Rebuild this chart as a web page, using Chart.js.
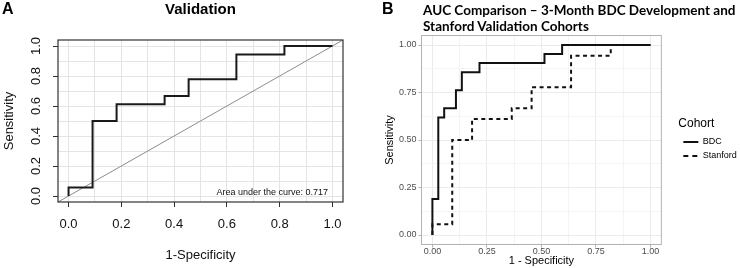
<!DOCTYPE html>
<html>
<head>
<meta charset="utf-8">
<script src="https://cdn.jsdelivr.net/npm/chart.js@4.4.1/dist/chart.umd.min.js"></script>
<style>
  body { margin: 0; background: #fff; }
  #fig { position: relative; width: 740px; height: 268px; overflow: hidden; background: #fff; }
  .panel { position: absolute; top: 0; }
  .txt { position: absolute; white-space: nowrap; color: #000; }
</style>
</head>
<body>
<div id="fig">
  <canvas id="rocA" class="panel" width="370" height="268" style="left:0"></canvas>
  <canvas id="rocB" class="panel" width="370" height="268" style="left:370px"></canvas>
  <div class="txt" style="left:2px;top:0;line-height:20px;font:bold 16px 'Liberation Sans'">A</div>
  <div class="txt" style="left:100px;width:201px;text-align:center;top:0;line-height:20px;font:bold 15px 'Liberation Sans'">Validation</div>
  <div class="txt" style="left:382px;top:0;line-height:20px;font:bold 16px 'Liberation Sans'">B</div>
  <div class="txt" style="left:423px;top:2px;line-height:15px;font:bold 13.5px Lato">AUC Comparison – 3-Month BDC Development and<br>Stanford Validation Cohorts</div>
</div>
<script>
// ROC curves, (1 - specificity, sensitivity) corners of each step
const fprStanford = [0, 0, 0.091, 0.091, 0.182, 0.182, 0.364, 0.364, 0.455, 0.455, 0.636, 0.636, 0.818, 0.818, 1.0];
const tprStanford = [0, 0.056, 0.056, 0.5, 0.5, 0.611, 0.611, 0.667, 0.667, 0.778, 0.778, 0.944, 0.944, 1.0, 1.0];
const fprBDC = [0, 0, 0.027, 0.027, 0.054, 0.054, 0.108, 0.108, 0.135, 0.135, 0.216, 0.216, 0.514, 0.514, 0.595, 0.595, 1.0];
const tprBDC = [0, 0.190, 0.190, 0.619, 0.619, 0.667, 0.667, 0.762, 0.762, 0.857, 0.857, 0.905, 0.905, 0.952, 0.952, 1.0, 1.0];
const diagLine = [-0.04, 1.04];
const cohorts = ['BDC', 'Stanford'];

const gridA = [0, 0.1, 0.2, 0.3, 0.4, 0.5, 0.6, 0.7, 0.8, 0.9, 1.0];
const tickValsA = [0, 0.2, 0.4, 0.6, 0.8, 1.0];
const tickLabelsA = ['0.0', '0.2', '0.4', '0.6', '0.8', '1.0'];
const gridB = [0, 0.125, 0.25, 0.375, 0.5, 0.625, 0.75, 0.875, 1.0];
const tickValsB = [0, 0.25, 0.5, 0.75, 1.0];
const tickLabelsB = ['0.00', '0.25', '0.50', '0.75', '1.00'];
const aucText = 'Area under the curve: 0.717';

const fontA = 'Liberation Sans';
const fontB = 'Liberation Sans';
Chart.defaults.font.family = fontA;

function pts(xs, ys) {
    return xs.map((x, i) => ({ x: x, y: ys[i] }));
}

function tickIndex(value, vals) {
    return vals.findIndex(v => Math.abs(v - value) < 1e-6);
}

const framePlugin = {
    id: 'frame',
    afterDatasetsDraw(chart, args, opts) {
        const { ctx, chartArea: a } = chart;
        ctx.save();
        ctx.strokeStyle = opts.color;
        ctx.lineWidth = opts.width;
        ctx.strokeRect(a.left, a.top, a.right - a.left, a.bottom - a.top);
        if (opts.text) {
            ctx.font = opts.font;
            ctx.fillStyle = '#111';
            ctx.textAlign = 'right';
            ctx.textBaseline = 'middle';
            ctx.fillText(opts.text, a.right - 15, a.bottom - 9);
        }
        ctx.restore();
    }
};

// panel A: base R / pROC style
new Chart(document.getElementById('rocA'), {
    type: 'line',
    data: {
        datasets: [{
            data: pts(fprStanford, tprStanford),
            borderColor: '#1a1a1a',
            borderWidth: 2,
            pointRadius: 0,
            fill: false
        }, {
            data: pts(diagLine, diagLine),
            borderColor: '#8c8c8c',
            borderWidth: 1,
            pointRadius: 0,
            fill: false
        }]
    },
    options: {
        responsive: false,
        animation: false,
        layout: { padding: { top: 40, right: 27, left: 0, bottom: 0 } },
        scales: {
            x: {
                type: 'linear',
                min: -0.04,
                max: 1.04,
                afterBuildTicks: s => { s.ticks = gridA.map(v => ({ value: v })); },
                afterFit: s => { s.height = 66; },
                grid: {
                    color: '#e4e4e4',
                    tickLength: 5,
                    tickColor: c => tickIndex(c.tick.value, tickValsA) >= 0 ? '#333' : 'rgba(0,0,0,0)'
                },
                border: { display: false },
                ticks: {
                    autoSkip: false,
                    maxRotation: 0,
                    padding: 10,
                    color: '#111',
                    font: { family: fontA, size: 13 },
                    callback: v => { const i = tickIndex(v, tickValsA); return i >= 0 ? tickLabelsA[i] : ''; }
                },
                title: {
                    display: true,
                    text: '1-Specificity',
                    color: '#111',
                    font: { family: fontA, size: 13 },
                    padding: { top: 0, bottom: 5.2 }
                }
            },
            y: {
                type: 'linear',
                min: -0.04,
                max: 1.04,
                afterBuildTicks: s => { s.ticks = gridA.map(v => ({ value: v })); },
                afterFit: s => { s.width = 58; },
                grid: {
                    color: '#e4e4e4',
                    tickLength: 5,
                    tickColor: c => tickIndex(c.tick.value, tickValsA) >= 0 ? '#333' : 'rgba(0,0,0,0)'
                },
                border: { display: false },
                ticks: {
                    autoSkip: false,
                    minRotation: 90,
                    maxRotation: 90,
                    crossAlign: 'center',
                    padding: 7.5,
                    color: '#111',
                    font: { family: fontA, size: 13 },
                    callback: v => { const i = tickIndex(v, tickValsA); return i >= 0 ? tickLabelsA[i] : ''; }
                },
                title: {
                    display: true,
                    text: 'Sensitivity',
                    color: '#111',
                    font: { family: fontA, size: 13 },
                    padding: { top: 1.2, bottom: 0 }
                }
            }
        },
        plugins: {
            legend: { display: false },
            tooltip: { enabled: false },
            frame: { color: '#333', width: 1.2, text: aucText, font: '9px ' + fontA }
        }
    },
    plugins: [framePlugin]
});

// panel B: ggplot theme_light style
const isMajorB = v => tickIndex(v, tickValsB) >= 0;
const chartB = new Chart(document.getElementById('rocB'), {
    type: 'line',
    data: {
        datasets: [{
            label: cohorts[0],
            data: pts(fprBDC, tprBDC),
            borderColor: '#111',
            backgroundColor: '#111',
            borderWidth: 2,
            pointRadius: 0,
            fill: false
        }, {
            label: cohorts[1],
            data: pts(fprStanford, tprStanford),
            borderColor: '#111',
            backgroundColor: '#111',
            borderWidth: 2,
            borderDash: [4, 3.5],
            pointRadius: 0,
            fill: false
        }]
    },
    options: {
        responsive: false,
        animation: false,
        layout: { padding: { top: 35.5, right: 0, left: 0, bottom: 0 } },
        scales: {
            x: {
                type: 'linear',
                min: -0.05,
                max: 1.05,
                afterBuildTicks: s => { s.ticks = gridB.map(v => ({ value: v })); },
                afterFit: s => { s.height = 23.5; },
                grid: {
                    color: c => isMajorB(c.tick.value) ? '#ebebeb' : '#f4f4f4',
                    tickLength: 3,
                    tickColor: c => isMajorB(c.tick.value) ? '#b3b3b3' : 'rgba(0,0,0,0)'
                },
                border: { display: false },
                ticks: {
                    autoSkip: false,
                    maxRotation: 0,
                    padding: 0,
                    color: '#4d4d4d',
                    font: { family: fontB, size: 9, lineHeight: 1 },
                    callback: v => { const i = tickIndex(v, tickValsB); return i >= 0 ? tickLabelsB[i] : ''; }
                },
                title: {
                    display: true,
                    text: '1 - Specificity',
                    color: '#000',
                    font: { family: fontB, size: 11 },
                    padding: { top: 0, bottom: 0 }
                }
            },
            y: {
                type: 'linear',
                min: -0.05,
                max: 1.05,
                afterBuildTicks: s => { s.ticks = gridB.map(v => ({ value: v })); },
                afterFit: s => { s.width = 51.5; },
                grid: {
                    color: c => isMajorB(c.tick.value) ? '#ebebeb' : '#f4f4f4',
                    tickLength: 3,
                    tickColor: c => isMajorB(c.tick.value) ? '#b3b3b3' : 'rgba(0,0,0,0)'
                },
                border: { display: false },
                ticks: {
                    autoSkip: false,
                    padding: 2,
                    color: '#4d4d4d',
                    font: { family: fontB, size: 9 },
                    callback: v => { const i = tickIndex(v, tickValsB); return i >= 0 ? tickLabelsB[i] : ''; }
                },
                title: {
                    display: true,
                    text: 'Sensitivity',
                    color: '#000',
                    font: { family: fontB, size: 11 },
                    padding: { top: 13.4, bottom: 0 }
                }
            },
            gap: {
                type: 'linear',
                position: 'right',
                ticks: { display: false },
                grid: { display: false },
                border: { display: false },
                afterFit: s => { s.width = 17; }
            }
        },
        plugins: {
            tooltip: { enabled: false },
            frame: { color: '#b3b3b3', width: 1 },
            legend: {
                position: 'right',
                align: 'center',
                title: {
                    display: true,
                    text: 'Cohort',
                    color: '#000',
                    position: 'start',
                    font: { family: fontB, size: 12 },
                    padding: { top: -20, bottom: 0 }
                },
                labels: {
                    usePointStyle: true,
                    pointStyle: 'line',
                    pointStyleWidth: 15,
                    boxHeight: 9,
                    padding: 5,
                    color: '#000',
                    font: { family: fontB, size: 9 },
                    // point-style legend items lose the dataset dash, so copy it back
                    generateLabels: chart => Chart.defaults.plugins.legend.labels.generateLabels(chart).map(item => {
                        const ds = chart.data.datasets[item.datasetIndex];
                        item.lineDash = ds.borderDash ? [5, 4] : [];
                        item.lineWidth = 2;
                        item.strokeStyle = '#111';
                        return item;
                    })
                }
            }
        }
    },
    plugins: [framePlugin]
});

// push the legend so the panel ends where the reference panel ends
const shiftB = chartB.chartArea.right - 295;
chartB.options.layout.padding.right = Math.max(0, shiftB);
chartB.update();
</script>
</body>
</html>
